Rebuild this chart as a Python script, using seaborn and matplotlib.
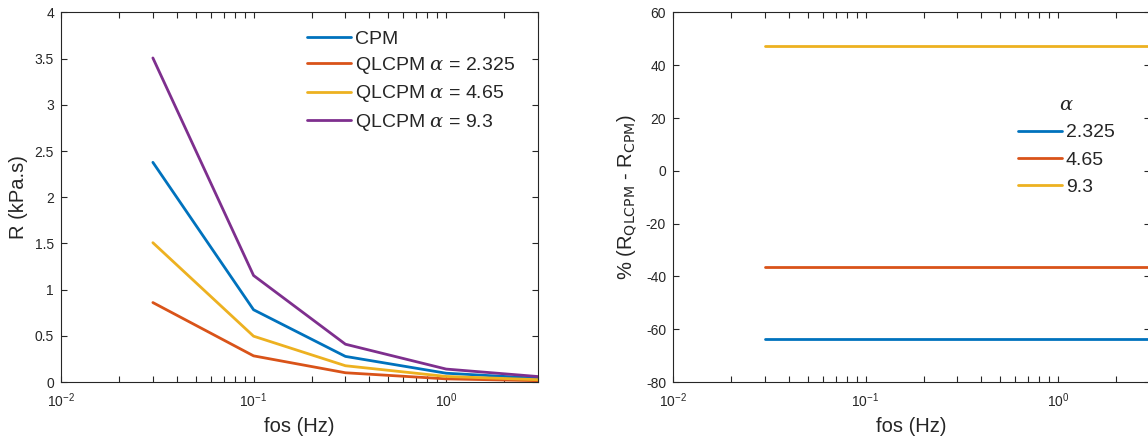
import matplotlib
matplotlib.use("Agg")
import matplotlib.pyplot as plt
import matplotlib.ticker as mticker
import numpy as np
import pandas as pd
import seaborn as sns

# ---- data ----
fos = [0.03, 0.1, 0.3, 1.0, 3.0]
r_cpm = [2.378, 0.782, 0.277, 0.095, 0.040]
r_q2325 = [0.860, 0.283, 0.100, 0.034, 0.014]
r_q465 = [1.508, 0.496, 0.176, 0.060, 0.025]
r_q93 = [3.508, 1.153, 0.409, 0.140, 0.059]

left_labels = ["CPM", r"QLCPM $\alpha$ = 2.325", r"QLCPM $\alpha$ = 4.65", r"QLCPM $\alpha$ = 9.3"]

alpha_labels = ["2.325", "4.65", "9.3"]
pct_2325 = [-63.8, -63.8, -63.8, -63.8, -63.8]
pct_465 = [-36.5, -36.5, -36.5, -36.5, -36.5]
pct_93 = [47.3, 47.3, 47.3, 47.3, 47.3]

yticks_left = [0, 0.5, 1, 1.5, 2, 2.5, 3, 3.5, 4]
yticks_right = [-80, -60, -40, -20, 0, 20, 40, 60]

colors = ["#0072BD", "#D95319", "#EDB120", "#7E2F8E"]

# ---- styling ----
sns.set_theme(style="ticks")
plt.rcParams["font.family"] = ["Liberation Sans", "DejaVu Sans"]
plt.rcParams["mathtext.fontset"] = "dejavuserif"

W, H = 1148, 440
fig = plt.figure(figsize=(W / 100, H / 100), dpi=100)

def px_axes(x0, y0, x1, y1):
    return fig.add_axes([x0 / W, 1 - y1 / H, (x1 - x0) / W, (y1 - y0) / H])

ax1 = px_axes(61, 12.5, 538, 382)
ax2 = px_axes(673, 12.5, 1150, 382)

df_left = pd.DataFrame({
    "fos": fos * 4,
    "R": r_cpm + r_q2325 + r_q465 + r_q93,
    "model": sum([[lab] * len(fos) for lab in left_labels], []),
})
sns.lineplot(data=df_left, x="fos", y="R", hue="model", hue_order=left_labels,
             palette=colors, linewidth=2, ax=ax1, legend=True)

df_right = pd.DataFrame({
    "fos": fos * 3,
    "pct": pct_2325 + pct_465 + pct_93,
    "alpha": sum([[lab] * len(fos) for lab in alpha_labels], []),
})
sns.lineplot(data=df_right, x="fos", y="pct", hue="alpha", hue_order=alpha_labels,
             palette=colors[:3], linewidth=2, ax=ax2, legend=True)

tc = "#262626"
for ax in (ax1, ax2):
    ax.set_xscale("log")
    ax.set_xlim(0.01, 3)
    ax.xaxis.set_major_locator(mticker.FixedLocator([0.01, 0.1, 1]))
    ax.xaxis.set_major_formatter(mticker.LogFormatterSciNotation())
    ax.xaxis.set_minor_locator(mticker.LogLocator(base=10, subs=np.arange(2, 10)))
    ax.xaxis.set_minor_formatter(mticker.NullFormatter())
    ax.tick_params(which="both", direction="in", top=True, right=True,
                   length=4, width=0.8, color=tc, labelcolor=tc, labelsize=10, pad=5)
    ax.tick_params(axis="x", which="both", pad=7)
    for s in ax.spines.values():
        s.set_color(tc)
        s.set_linewidth(0.8)
    ax.set_xlabel("fos (Hz)", fontsize=14.5, color=tc, labelpad=5)

ax1.set_ylim(0, 4)
ax1.set_yticks(yticks_left)
ax1.yaxis.set_major_formatter(mticker.FormatStrFormatter("%g"))
ax1.set_ylabel("R (kPa.s)", fontsize=14.5, color=tc, labelpad=5)

ax2.set_ylim(-80, 60)
ax2.set_yticks(yticks_right)
ax2.yaxis.set_major_formatter(mticker.FormatStrFormatter("%g"))
ax2.set_ylabel(r"% (R$_{\mathsf{QLCPM}}$ - R$_{\mathsf{CPM}}$)", fontsize=14.5, color=tc, labelpad=5)

leg1 = ax1.legend(loc="upper left", bbox_to_anchor=(307 / W, 1 - 30 / H),
                  bbox_transform=fig.transFigure, frameon=False, fontsize=14,
                  handlelength=2.25, handletextpad=0.2, labelspacing=0.38,
                  borderaxespad=0, borderpad=0)
leg2 = ax2.legend(title=r"$\alpha$", loc="upper left", bbox_to_anchor=(1018 / W, 1 - 97 / H),
                  bbox_transform=fig.transFigure, frameon=False, fontsize=14,
                  title_fontsize=14, handlelength=2.25, handletextpad=0.2,
                  labelspacing=0.5, borderaxespad=0, borderpad=0)
for leg in (leg1, leg2):
    for line in leg.get_lines():
        line.set_linewidth(2)

fig.savefig("out.png", dpi=100)
